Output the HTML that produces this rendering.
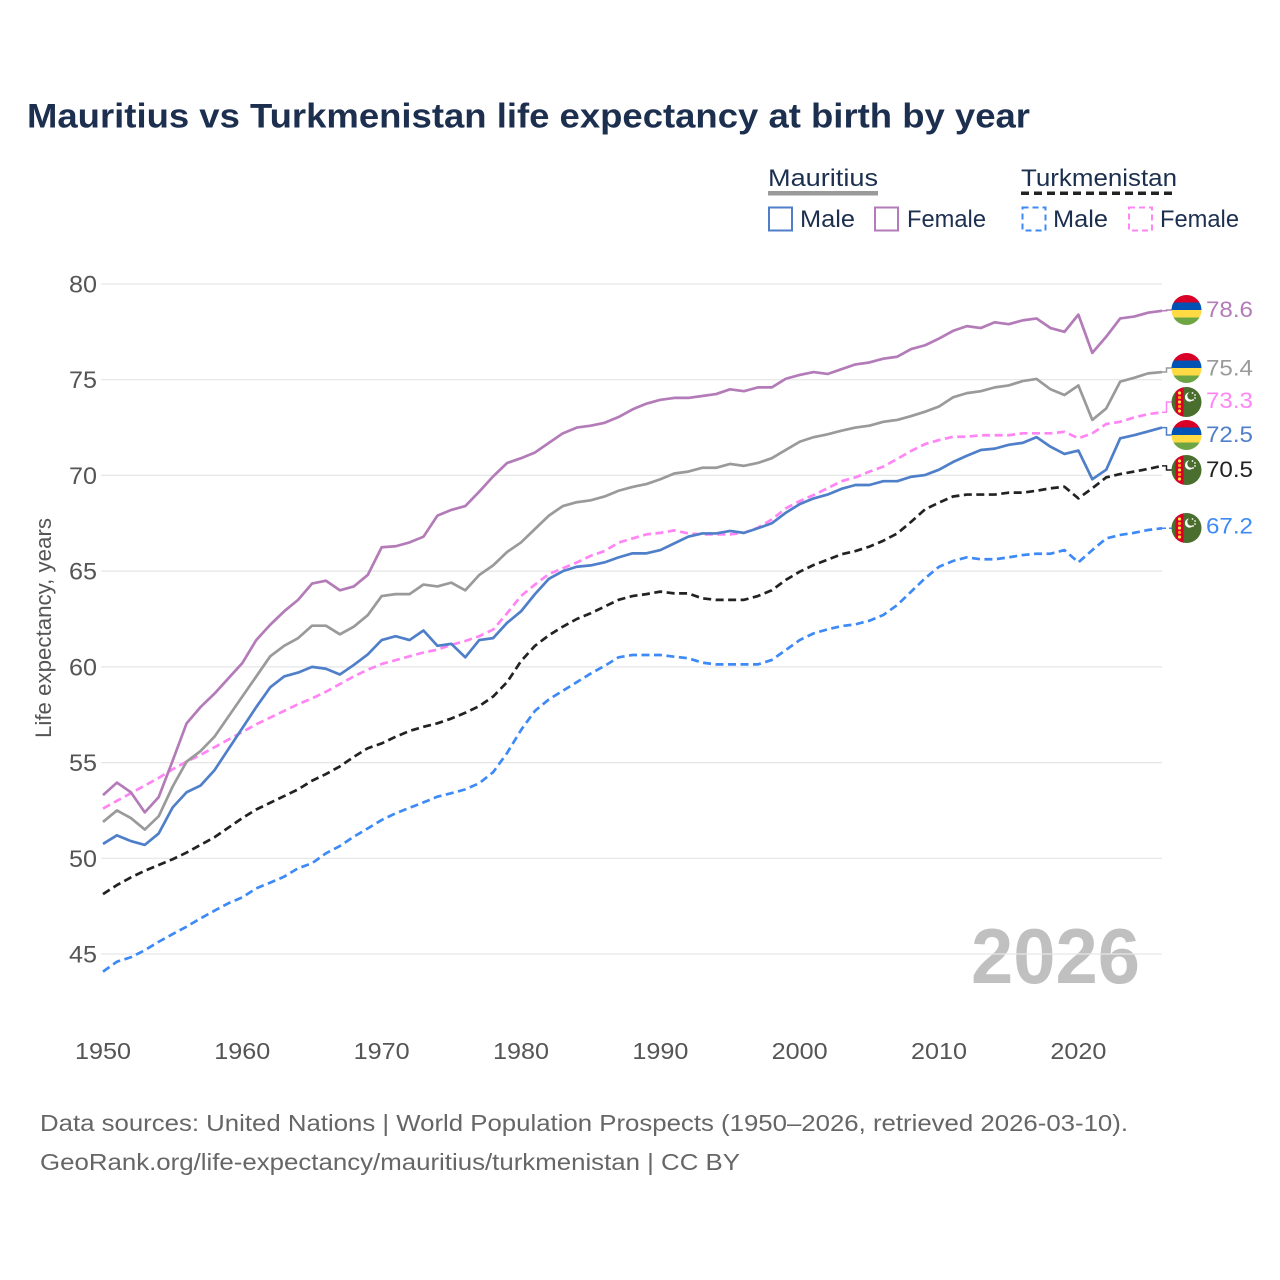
<!DOCTYPE html>
<html>
<head>
<meta charset="utf-8">
<style>
html,body{margin:0;padding:0;background:#fff;}
svg{display:block;}
text{font-family:"Liberation Sans",sans-serif;}
</style>
</head>
<body>
<svg width="1280" height="1280" viewBox="0 0 1280 1280" xmlns="http://www.w3.org/2000/svg">
<defs>
  <clipPath id="cc"><circle cx="0" cy="0" r="15"/></clipPath>
  <g id="mu">
    <g clip-path="url(#cc)">
      <rect x="-15" y="-15" width="30" height="7.5" fill="#d80027"/>
      <rect x="-15" y="-7.5" width="30" height="7.5" fill="#0052b4"/>
      <rect x="-15" y="0" width="30" height="7.5" fill="#ffda44"/>
      <rect x="-15" y="7.5" width="30" height="7.5" fill="#6da544"/>
    </g>
  </g>
  <g id="tm">
    <g clip-path="url(#cc)">
      <rect x="-15" y="-15" width="30" height="30" fill="#496e2d"/>
      <rect x="-11" y="-15" width="8" height="30" fill="#d80027"/>
      <circle cx="-7" cy="-9" r="1.6" fill="#ffda44"/>
      <circle cx="-7" cy="-4.5" r="1.6" fill="#ff9811"/>
      <circle cx="-7" cy="0" r="1.6" fill="#ffda44"/>
      <circle cx="-7" cy="4.5" r="1.6" fill="#ff9811"/>
      <circle cx="-7" cy="9" r="1.6" fill="#ffda44"/>
      <circle cx="3" cy="-5" r="4.6" fill="#fff"/>
      <circle cx="4.8" cy="-6.2" r="4" fill="#496e2d"/>
      <circle cx="6" cy="-9" r="0.9" fill="#fff"/>
      <circle cx="8.5" cy="-7" r="0.9" fill="#fff"/>
      <circle cx="8.5" cy="-4" r="0.9" fill="#fff"/>
      <circle cx="6.5" cy="-2" r="0.9" fill="#fff"/>
    </g>
  </g>
</defs>

<rect width="1280" height="1280" fill="#fff"/>

<!-- Title -->
<text x="27" y="127.5" font-size="34" font-weight="bold" fill="#1c2f4f" textLength="1003" lengthAdjust="spacingAndGlyphs">Mauritius vs Turkmenistan life expectancy at birth by year</text>

<!-- Legend -->
<text x="768" y="186" font-size="24" fill="#1c2f4f" textLength="110" lengthAdjust="spacingAndGlyphs">Mauritius</text>
<rect x="768" y="191" width="110" height="4.5" fill="#9a9a9a"/>
<text x="1021" y="186" font-size="24" fill="#1c2f4f" textLength="156" lengthAdjust="spacingAndGlyphs">Turkmenistan</text>
<line x1="1021" y1="193.3" x2="1177" y2="193.3" stroke="#222" stroke-width="3.5" stroke-dasharray="8 5"/>

<rect x="769" y="207.5" width="23" height="23" fill="none" stroke="#4f7fc9" stroke-width="2"/>
<text x="800" y="227" font-size="24" fill="#1c2f4f" textLength="55" lengthAdjust="spacingAndGlyphs">Male</text>
<rect x="875" y="207.5" width="23" height="23" fill="none" stroke="#b37bb8" stroke-width="2"/>
<text x="907" y="227" font-size="24" fill="#1c2f4f" textLength="79" lengthAdjust="spacingAndGlyphs">Female</text>
<rect x="1022.5" y="207.5" width="23" height="23" fill="none" stroke="#3d8af7" stroke-width="2" stroke-dasharray="6 4"/>
<text x="1053" y="227" font-size="24" fill="#1c2f4f" textLength="55" lengthAdjust="spacingAndGlyphs">Male</text>
<rect x="1129" y="207.5" width="23" height="23" fill="none" stroke="#ff85f5" stroke-width="2" stroke-dasharray="6 4"/>
<text x="1160" y="227" font-size="24" fill="#1c2f4f" textLength="79" lengthAdjust="spacingAndGlyphs">Female</text>

<!-- Watermark year -->
<text x="971" y="983" font-size="78" font-weight="bold" fill="#c0c0c0" textLength="169" lengthAdjust="spacingAndGlyphs">2026</text>

<!-- Gridlines -->
<g stroke="#e6e6e6" stroke-width="1.2">
  <line x1="101" y1="284" x2="1162" y2="284"/>
  <line x1="101" y1="379.7" x2="1162" y2="379.7"/>
  <line x1="101" y1="475.4" x2="1162" y2="475.4"/>
  <line x1="101" y1="571.1" x2="1162" y2="571.1"/>
  <line x1="101" y1="666.9" x2="1162" y2="666.9"/>
  <line x1="101" y1="762.6" x2="1162" y2="762.6"/>
  <line x1="101" y1="858.3" x2="1162" y2="858.3"/>
  <line x1="101" y1="954" x2="1162" y2="954"/>
</g>

<!-- Y tick labels -->
<g font-size="24" fill="#555" text-anchor="end">
  <text x="97" y="292.5" textLength="28" lengthAdjust="spacingAndGlyphs">80</text>
  <text x="97" y="388.2" textLength="28" lengthAdjust="spacingAndGlyphs">75</text>
  <text x="97" y="483.9" textLength="28" lengthAdjust="spacingAndGlyphs">70</text>
  <text x="97" y="579.6" textLength="28" lengthAdjust="spacingAndGlyphs">65</text>
  <text x="97" y="675.4" textLength="28" lengthAdjust="spacingAndGlyphs">60</text>
  <text x="97" y="771.1" textLength="28" lengthAdjust="spacingAndGlyphs">55</text>
  <text x="97" y="866.8" textLength="28" lengthAdjust="spacingAndGlyphs">50</text>
  <text x="97" y="962.5" textLength="28" lengthAdjust="spacingAndGlyphs">45</text>
</g>

<!-- X tick labels -->
<g font-size="23" fill="#555" text-anchor="middle">
  <text x="103" y="1059" textLength="56" lengthAdjust="spacingAndGlyphs">1950</text>
  <text x="242.3" y="1059" textLength="56" lengthAdjust="spacingAndGlyphs">1960</text>
  <text x="381.7" y="1059" textLength="56" lengthAdjust="spacingAndGlyphs">1970</text>
  <text x="521" y="1059" textLength="56" lengthAdjust="spacingAndGlyphs">1980</text>
  <text x="660.4" y="1059" textLength="56" lengthAdjust="spacingAndGlyphs">1990</text>
  <text x="799.7" y="1059" textLength="56" lengthAdjust="spacingAndGlyphs">2000</text>
  <text x="939" y="1059" textLength="56" lengthAdjust="spacingAndGlyphs">2010</text>
  <text x="1078.4" y="1059" textLength="56" lengthAdjust="spacingAndGlyphs">2020</text>
</g>

<!-- Y axis title -->
<text transform="translate(51 628) rotate(-90)" x="0" y="0" font-size="22" fill="#555" text-anchor="middle" textLength="220" lengthAdjust="spacingAndGlyphs">Life expectancy, years</text>

<!-- Series (data coordinates) -->
<g transform="translate(103 284) scale(13.934 -19.143) translate(-1950 -80)" fill="none" stroke-linejoin="round" stroke-linecap="butt">
  <polyline vector-effect="non-scaling-stroke" stroke="#3d8af7" stroke-width="2.7" stroke-dasharray="8 4.5" points="1950,44.08 1951,44.6 1952,44.83 1953,45.2 1954,45.64 1955,46.04 1956,46.43 1957,46.86 1958,47.26 1959,47.65 1960,47.96 1961,48.43 1962,48.73 1963,49.04 1964,49.48 1965,49.74 1966,50.26 1967,50.64 1968,51.13 1969,51.56 1970,52 1971,52.35 1972,52.64 1973,52.92 1974,53.22 1975,53.4 1976,53.6 1977,53.92 1978,54.5 1979,55.5 1980,56.7 1981,57.7 1982,58.3 1983,58.75 1984,59.2 1985,59.65 1986,60.05 1987,60.5 1988,60.62 1989,60.62 1990,60.62 1991,60.53 1992,60.45 1993,60.22 1994,60.13 1995,60.13 1996,60.13 1997,60.13 1998,60.36 1999,60.88 2000,61.4 2001,61.75 2002,61.96 2003,62.13 2004,62.22 2005,62.41 2006,62.71 2007,63.23 2008,63.93 2009,64.63 2010,65.23 2011,65.53 2012,65.72 2013,65.62 2014,65.62 2015,65.72 2016,65.84 2017,65.91 2018,65.91 2019,66.1 2020,65.46 2021,66.1 2022,66.71 2023,66.89 2024,67 2025,67.15 2026,67.24"/>
  <polyline vector-effect="non-scaling-stroke" stroke="#222" stroke-width="2.7" stroke-dasharray="8 4.5" points="1950,48.13 1951,48.6 1952,49 1953,49.35 1954,49.65 1955,49.95 1956,50.3 1957,50.7 1958,51.1 1959,51.6 1960,52.1 1961,52.55 1962,52.9 1963,53.25 1964,53.6 1965,54.05 1966,54.4 1967,54.8 1968,55.3 1969,55.75 1970,56 1971,56.35 1972,56.65 1973,56.87 1974,57.05 1975,57.3 1976,57.6 1977,57.95 1978,58.45 1979,59.2 1980,60.3 1981,61.1 1982,61.65 1983,62.1 1984,62.5 1985,62.8 1986,63.15 1987,63.5 1988,63.7 1989,63.8 1990,63.93 1991,63.84 1992,63.84 1993,63.58 1994,63.5 1995,63.5 1996,63.5 1997,63.7 1998,64 1999,64.54 2000,64.97 2001,65.32 2002,65.6 2003,65.88 2004,66.05 2005,66.28 2006,66.59 2007,66.97 2008,67.58 2009,68.23 2010,68.58 2011,68.9 2012,69 2013,69 2014,69 2015,69.1 2016,69.1 2017,69.2 2018,69.33 2019,69.41 2020,68.8 2021,69.33 2022,69.9 2023,70.07 2024,70.2 2025,70.34 2026,70.5"/>
  <polyline vector-effect="non-scaling-stroke" stroke="#ff85f5" stroke-width="2.7" stroke-dasharray="8 4.5" points="1950,52.6 1951,53 1952,53.4 1953,53.8 1954,54.2 1955,54.65 1956,55.05 1957,55.4 1958,55.8 1959,56.2 1960,56.6 1961,57 1962,57.35 1963,57.7 1964,58.05 1965,58.35 1966,58.7 1967,59.1 1968,59.5 1969,59.85 1970,60.15 1971,60.35 1972,60.55 1973,60.75 1974,60.9 1975,61.15 1976,61.35 1977,61.6 1978,61.95 1979,62.8 1980,63.7 1981,64.3 1982,64.85 1983,65.15 1984,65.45 1985,65.8 1986,66.05 1987,66.49 1988,66.71 1989,66.92 1990,67 1991,67.13 1992,66.97 1993,66.92 1994,66.92 1995,66.92 1996,67 1997,67.27 1998,67.7 1999,68.28 2000,68.66 2001,68.98 2002,69.33 2003,69.7 2004,69.9 2005,70.2 2006,70.46 2007,70.86 2008,71.28 2009,71.64 2010,71.85 2011,72.02 2012,72.02 2013,72.1 2014,72.1 2015,72.1 2016,72.2 2017,72.2 2018,72.2 2019,72.28 2020,71.94 2021,72.2 2022,72.69 2023,72.8 2024,73.03 2025,73.2 2026,73.3"/>
  <polyline vector-effect="non-scaling-stroke" stroke="#4f7fc9" stroke-width="2.7" points="1950,50.75 1951,51.2 1952,50.9 1953,50.7 1954,51.3 1955,52.66 1956,53.45 1957,53.8 1958,54.6 1959,55.7 1960,56.8 1961,57.9 1962,58.93 1963,59.5 1964,59.7 1965,60 1966,59.9 1967,59.6 1968,60.1 1969,60.65 1970,61.4 1971,61.6 1972,61.4 1973,61.9 1974,61.1 1975,61.2 1976,60.5 1977,61.4 1978,61.5 1979,62.3 1980,62.9 1981,63.8 1982,64.6 1983,65 1984,65.23 1985,65.3 1986,65.46 1987,65.72 1988,65.93 1989,65.93 1990,66.1 1991,66.45 1992,66.8 1993,66.97 1994,66.97 1995,67.1 1996,67 1997,67.24 1998,67.5 1999,68.05 2000,68.5 2001,68.8 2002,69 2003,69.3 2004,69.5 2005,69.5 2006,69.7 2007,69.7 2008,69.93 2009,70.02 2010,70.3 2011,70.7 2012,71.03 2013,71.33 2014,71.4 2015,71.6 2016,71.7 2017,72 2018,71.5 2019,71.12 2020,71.3 2021,69.8 2022,70.3 2023,71.94 2024,72.1 2025,72.3 2026,72.5"/>
  <polyline vector-effect="non-scaling-stroke" stroke="#9a9a9a" stroke-width="2.7" points="1950,51.9 1951,52.5 1952,52.1 1953,51.5 1954,52.2 1955,53.75 1956,55.05 1957,55.6 1958,56.35 1959,57.4 1960,58.45 1961,59.5 1962,60.55 1963,61.1 1964,61.5 1965,62.15 1966,62.15 1967,61.7 1968,62.1 1969,62.7 1970,63.7 1971,63.8 1972,63.8 1973,64.3 1974,64.2 1975,64.4 1976,64 1977,64.8 1978,65.3 1979,66 1980,66.5 1981,67.2 1982,67.9 1983,68.4 1984,68.6 1985,68.7 1986,68.9 1987,69.2 1988,69.4 1989,69.55 1990,69.8 1991,70.1 1992,70.2 1993,70.4 1994,70.4 1995,70.6 1996,70.5 1997,70.65 1998,70.9 1999,71.33 2000,71.76 2001,72 2002,72.15 2003,72.34 2004,72.5 2005,72.6 2006,72.8 2007,72.9 2008,73.1 2009,73.33 2010,73.6 2011,74.08 2012,74.3 2013,74.4 2014,74.6 2015,74.7 2016,74.93 2017,75.04 2018,74.5 2019,74.2 2020,74.7 2021,72.9 2022,73.5 2023,74.9 2024,75.1 2025,75.33 2026,75.4"/>
  <polyline vector-effect="non-scaling-stroke" stroke="#b37bb8" stroke-width="2.7" points="1950,53.3 1951,53.95 1952,53.45 1953,52.4 1954,53.2 1955,55.1 1956,57.05 1957,57.9 1958,58.6 1959,59.4 1960,60.2 1961,61.4 1962,62.2 1963,62.9 1964,63.5 1965,64.35 1966,64.5 1967,64 1968,64.2 1969,64.8 1970,66.25 1971,66.3 1972,66.5 1973,66.8 1974,67.9 1975,68.2 1976,68.4 1977,69.15 1978,69.95 1979,70.65 1980,70.9 1981,71.2 1982,71.7 1983,72.2 1984,72.5 1985,72.6 1986,72.75 1987,73.05 1988,73.45 1989,73.75 1990,73.95 1991,74.05 1992,74.05 1993,74.15 1994,74.25 1995,74.5 1996,74.4 1997,74.6 1998,74.6 1999,75.05 2000,75.25 2001,75.4 2002,75.3 2003,75.55 2004,75.8 2005,75.9 2006,76.1 2007,76.2 2008,76.6 2009,76.8 2010,77.15 2011,77.55 2012,77.8 2013,77.7 2014,78 2015,77.9 2016,78.1 2017,78.2 2018,77.7 2019,77.5 2020,78.4 2021,76.4 2022,77.25 2023,78.2 2024,78.3 2025,78.5 2026,78.6"/>
</g>

<!-- Connectors -->
<g fill="none" stroke-width="1.5">
  <path d="M1162 310.8 H1166.5 V310 H1172" stroke="#b37bb8"/>
  <path d="M1162 372 H1166.5 V368 H1172" stroke="#9a9a9a"/>
  <path d="M1162 412.3 H1166.5 V402 H1172" stroke="#ff85f5"/>
  <path d="M1162 427.6 H1166.5 V435 H1172" stroke="#4f7fc9"/>
  <path d="M1162 465.9 H1166.5 V470 H1172" stroke="#222"/>
  <path d="M1162 528.3 H1172" stroke="#3d8af7" stroke-dasharray="4 3"/>
</g>

<!-- Flags -->
<use href="#mu" x="1186.5" y="310"/>
<use href="#mu" x="1186.5" y="368"/>
<use href="#tm" x="1186.5" y="402"/>
<use href="#mu" x="1186.5" y="435"/>
<use href="#tm" x="1186.5" y="470"/>
<use href="#tm" x="1186.5" y="528"/>

<!-- End labels -->
<g font-size="22">
  <text x="1206" y="317" fill="#b37bb8" textLength="47" lengthAdjust="spacingAndGlyphs">78.6</text>
  <text x="1206" y="375.5" fill="#9a9a9a" textLength="47" lengthAdjust="spacingAndGlyphs">75.4</text>
  <text x="1206" y="408" fill="#ff85f5" textLength="47" lengthAdjust="spacingAndGlyphs">73.3</text>
  <text x="1206" y="442" fill="#4f7fc9" textLength="47" lengthAdjust="spacingAndGlyphs">72.5</text>
  <text x="1206" y="477" fill="#222" textLength="47" lengthAdjust="spacingAndGlyphs">70.5</text>
  <text x="1206" y="533.5" fill="#3d8af7" textLength="47" lengthAdjust="spacingAndGlyphs">67.2</text>
</g>

<!-- Footer -->
<text x="40" y="1131" font-size="23" fill="#666" textLength="1088" lengthAdjust="spacingAndGlyphs">Data sources: United Nations | World Population Prospects (1950–2026, retrieved 2026-03-10).</text>
<text x="40" y="1170" font-size="23" fill="#666" textLength="700" lengthAdjust="spacingAndGlyphs">GeoRank.org/life-expectancy/mauritius/turkmenistan | CC BY</text>
</svg>
</body>
</html>
